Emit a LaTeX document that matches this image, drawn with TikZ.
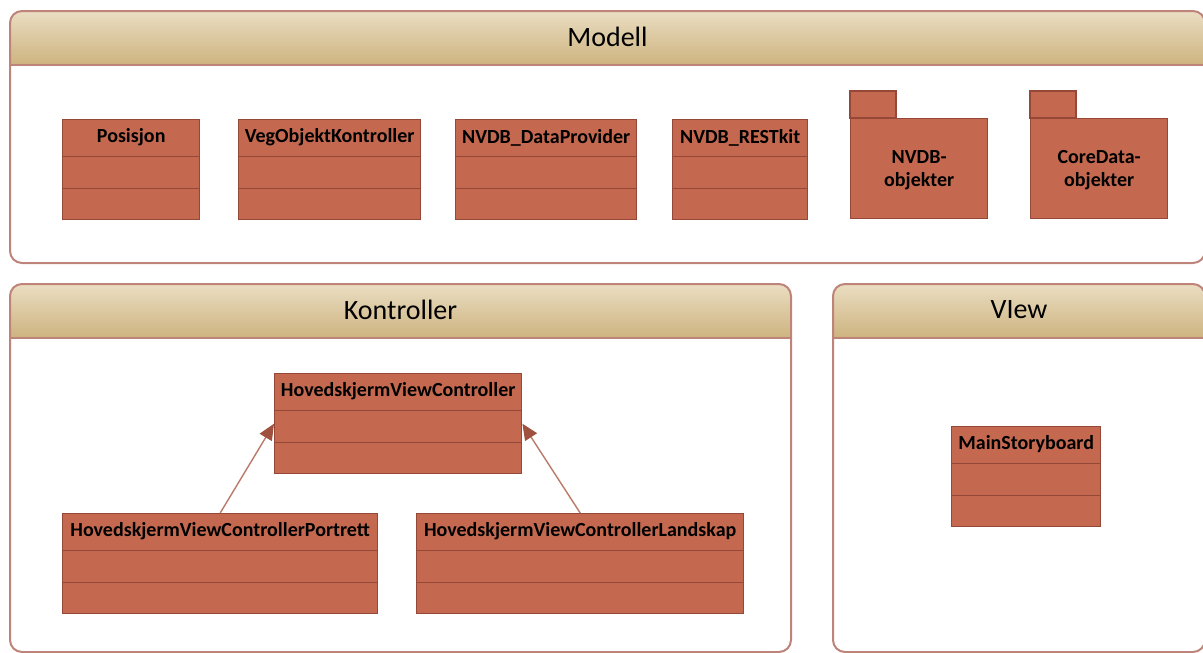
\documentclass[tikz,border=0pt]{standalone}
\usepackage{fontspec}
\setmainfont{Carlito}
\usetikzlibrary{arrows.meta, positioning, calc}
\definecolor{clsfill}{RGB}{196,105,80}
\definecolor{clsline}{RGB}{150,72,56}
\definecolor{panelline}{RGB}{190,132,122}
\definecolor{headtop}{RGB}{234,221,194}
\definecolor{headbot}{RGB}{206,180,128}
\definecolor{arvline}{RGB}{186,122,106}
\definecolor{arvtip}{RGB}{160,80,62}
\tikzset{
  panel/.style={draw=panelline, line width=2pt, rounded corners=12pt, fill=white,
    anchor=north west, inner sep=0pt,
    path picture={
      \foreach \i in {0,...,26} {
        \pgfmathsetmacro\pct{100-\i*100/26}
        \pgfmathsetmacro\ya{-2*\i}
        \pgfmathsetmacro\yb{-2*\i-2.4}
        \fill[sharp corners, headtop!\pct!headbot]
          ([yshift=\ya pt]path picture bounding box.north west) rectangle ([yshift=\yb pt]path picture bounding box.north east);
      }
      \draw[sharp corners, panelline, line width=2pt]
        ([yshift=-54pt]path picture bounding box.north west) -- ([yshift=-54pt]path picture bounding box.north east);
    }},
  paneltitle/.style={anchor=center, yshift=-27pt, font=\fontsize{28}{32}\selectfont},
  klasse/.style={draw=clsline, line width=1.4pt, fill=clsfill, anchor=north west, inner sep=0pt,
    minimum height=100pt,
    path picture={
      \draw[clsline, line width=1.4pt]
        ([yshift=-37pt]path picture bounding box.north west) -- ([yshift=-37pt]path picture bounding box.north east)
        ([yshift=-69pt]path picture bounding box.north west) -- ([yshift=-69pt]path picture bounding box.north east);
    }},
  klassenavn/.style={anchor=center, yshift=-18.5pt, font=\bfseries\fontsize{20}{24}\selectfont},
  pakke/.style={draw=clsline, line width=1.4pt, fill=clsfill, anchor=north west, inner sep=0pt,
    minimum width=137pt, minimum height=100pt, align=center, text depth=-4pt,
    font=\bfseries\fontsize{20}{23}\selectfont},
  arv/.style={arvline, line width=1.4pt, -{Triangle[length=16pt, width=14pt, color=arvtip, fill=arvtip]}},
}
\begin{document}
\begin{tikzpicture}[x=1pt, y=-1pt]
  \useasboundingbox (0,0) rectangle (1203,653);

  % panels
  \node[panel, minimum width=1195pt, minimum height=252pt, label={[paneltitle]north:Modell}] (modell) at (9,10) {};
  \node[panel, minimum width=781pt, minimum height=368pt, label={[paneltitle]north:Kontroller}] (kontroller) at (9,283) {};
  \node[panel, minimum width=372pt, minimum height=368pt, label={[paneltitle]north:VIew}] (view) at (832,283) {};

  % modell
  \node[klasse, minimum width=137pt, label={[klassenavn]north:Posisjon}] (posisjon) at (62,119) {};
  \node[klasse, minimum width=182pt, label={[klassenavn]north:VegObjektKontroller}] (vegobj) at (238,119) {};
  \node[klasse, minimum width=181pt, label={[klassenavn]north:NVDB\_DataProvider}] (dataprov) at (455,119) {};
  \node[klasse, minimum width=135pt, label={[klassenavn]north:NVDB\_RESTkit}] (restkit) at (672,119) {};
  \node[pakke] (nvdbobj) at (850,118) {NVDB-\\objekter};
  \node[pakke] (coredata) at (1030,118) {CoreData-\\objekter};
  \draw[draw=clsline, line width=1.4pt, fill=clsfill] (nvdbobj.north west) rectangle ++(46,-27);
  \draw[draw=clsline, line width=1.4pt, fill=clsfill] (coredata.north west) rectangle ++(46,-27);

  % kontroller
  \node[klasse, minimum width=247pt, label={[klassenavn]north:HovedskjermViewController}] (hvc) at (274,373) {};
  \node[klasse, minimum width=315pt, label={[klassenavn]north:HovedskjermViewControllerPortrett}] (portrett) at (62,513) {};
  \node[klasse, minimum width=327pt, label={[klassenavn]north:HovedskjermViewControllerLandskap}] (landskap) at (416,513) {};
  \draw[arv] (portrett.north) -- (hvc.west);
  \draw[arv] (landskap.north) -- (hvc.east);

  % view
  \node[klasse, minimum width=149pt, label={[klassenavn]north:MainStoryboard}] (mainsb) at (951,426) {};
\end{tikzpicture}
\end{document}
